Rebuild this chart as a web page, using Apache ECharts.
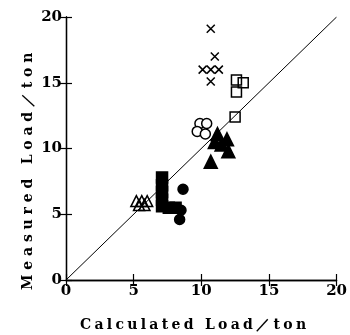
<!DOCTYPE html>
<html><head><meta charset="utf-8">
<script src="https://cdn.jsdelivr.net/npm/echarts@6/dist/echarts.min.js"></script>
<style>html,body{margin:0;padding:0;background:#fff}#c{width:350px;height:335px}</style>
</head><body><div id="c"></div>
<script>
var xTicks = [0, 5, 10, 15, 20];
var yTicks = [0, 5, 10, 15, 20];
var crosses = [[10.7,19.1],[11.0,17.0],[10.1,16.0],[10.7,16.0],[11.3,16.0],[10.7,15.1]];
var openSquares = [[12.6,15.2],[13.1,15.0],[12.6,14.3],[12.5,12.4]];
var openCircles = [[9.9,11.9],[10.4,11.9],[9.7,11.3],[10.3,11.1]];
var filledTriangles = [[11.2,11.1],[11.0,10.5],[11.9,10.7],[11.5,10.3],[12.0,9.8],[10.7,9.0]];
var openTriangles = [[5.2,6.0],[5.6,6.0],[6.0,6.0],[5.4,5.7],[5.8,5.7]];
var filledSquares = [[7.1,7.8],[7.1,7.2],[7.1,6.7],[7.1,6.1],[7.1,5.6],[7.6,5.5],[8.1,5.5]];
var filledCircles = [[8.65,6.9],[8.5,5.3],[8.4,4.6]];
var diagonal = [[0,0],[20,20]];
var xTitle = 'Calculated Load／ton';
var yTitle = 'Measured Load／ton';

// letter-spaced axis titles: draw glyph by glyph with extra advance
(function () {
  var p = CanvasRenderingContext2D.prototype, f = p.fillText;
  p.fillText = function (t, x, y) {
    if (t === xTitle || t === yTitle) {
      var gap = t === xTitle ? 3.3 : 4.8;
      var cx = x;
      for (var i = 0; i < t.length; i++) {
        var ch = t.charAt(i);
        f.call(this, ch, cx, y);
        cx += this.measureText(ch).width + gap;
      }
    } else {
      f.apply(this, arguments);
    }
  };
})();

var font = 'DejaVu Serif';
var chart = echarts.init(document.getElementById('c'));
function axisBase(show) {
  return {
    type: 'value', min: 0, max: 20, interval: 5,
    axisLine: {show: true, lineStyle: {color: '#000', width: 1.3}},
    axisTick: {show: true, inside: true, length: 6, lineStyle: {color: '#000', width: 1.2}},
    splitLine: {show: false},
    axisLabel: {show: show, color: '#000', fontFamily: font, fontWeight: 'bold', fontSize: 15}
  };
}
var xb = axisBase(true); xb.position = 'bottom'; xb.axisLabel.margin = 4;
var xt = axisBase(false); xt.position = 'top';
var yl = axisBase(true); yl.position = 'left'; yl.axisLabel.margin = 4;
var yr = axisBase(false); yr.position = 'right';
function sc(data, symbol, size, fill, z) {
  return {
    type: 'scatter', data: data, symbol: symbol, symbolSize: size, z: z || 3,
    xAxisIndex: 0, yAxisIndex: 0,
    itemStyle: {color: fill, borderColor: '#000', borderWidth: 1.5, opacity: 1}
  };
}
chart.setOption({
  animation: false,
  grid: {left: 66, right: 9, top: 17, bottom: 55},
  xAxis: [xb, xt],
  yAxis: [yl, yr],
  series: [
    {type: 'line', data: diagonal, symbol: 'none', z: 2, lineStyle: {color: '#000', width: 1}},
    sc(crosses, 'path://M0,0L10,10M10,0L0,10', 8, 'none', 4),
    sc(openSquares, 'rect', 10, 'none', 4),
    sc(openCircles, 'circle', 10, '#fff', 4),
    sc(filledTriangles, 'triangle', 13, '#000', 4),
    sc(openTriangles, 'triangle', 11, 'none', 4),
    sc(filledSquares, 'rect', 11, '#000', 4),
    sc(filledCircles, 'circle', 10, '#000', 4)
  ],
  graphic: [
    {type: 'text', x: 80, y: 325, style: {text: xTitle, font: 'bold 14px "DejaVu Serif"', fill: '#000', textAlign: 'left', textVerticalAlign: 'middle'}},
    {type: 'text', x: 28, y: 290, rotation: Math.PI / 2, style: {text: yTitle, font: 'bold 14px "DejaVu Serif"', fill: '#000', textAlign: 'left', textVerticalAlign: 'middle'}}
  ]
});
</script></body></html>
